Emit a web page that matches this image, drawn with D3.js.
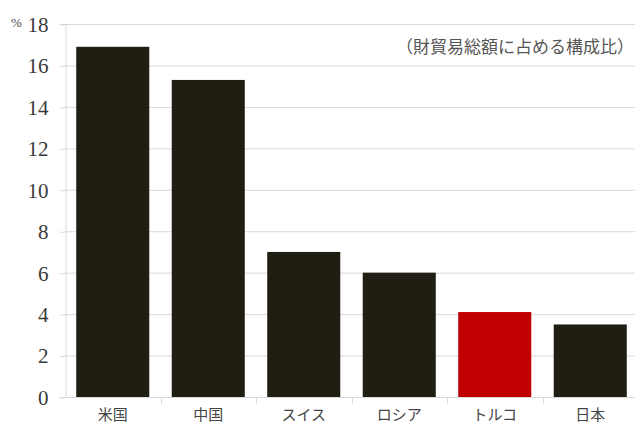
<!DOCTYPE html>
<html><head><meta charset="utf-8">
<script src="https://cdn.jsdelivr.net/npm/d3@7"></script>
<style>body{margin:0;background:#fff}</style>
</head><body>
<script>
const categories = ["米国","中国","スイス","ロシア","トルコ","日本"];
const values = [16.9, 15.3, 7.0, 6.0, 4.1, 3.5];
const highlight = ["トルコ"];
const yTicks = [0,2,4,6,8,10,12,14,16,18];
const unitLabel = "%";
const note = "（財貿易総額に占める構成比）";

const W = 635, H = 424;
const m = {left:65, right:-3, top:24, bottom:27};
const svg = d3.select("body").append("svg").attr("width",W).attr("height",H);
const x = d3.scaleBand().domain(categories).range([m.left, W - m.right]).paddingInner(0.235).paddingOuter(0.1175);
const y = d3.scaleLinear().domain([0,18]).range([H - m.bottom, m.top]);

// gridlines
svg.append("g").selectAll("line").data(yTicks).join("line")
  .attr("x1", m.left).attr("x2", W).attr("y1", d=>y(d)+0.5).attr("y2", d=>y(d)+0.5)
  .attr("stroke","#d9d9d9").attr("stroke-width",1);

// y axis
const ya = svg.append("g").attr("transform",`translate(${m.left+0.5},0)`)
  .call(d3.axisLeft(y).tickValues(yTicks).tickSize(6).tickPadding(11));
ya.select(".domain").attr("stroke","#d9d9d9");
ya.selectAll(".tick line").attr("stroke","#d9d9d9").attr("transform","translate(0,0.5)");
ya.selectAll(".tick text").attr("font-family","'Liberation Serif','DejaVu Serif',serif").attr("font-size",21).attr("fill","#3a3a3a").attr("dy","0.35em");

// bars
svg.append("g").selectAll("rect").data(categories).join("rect")
  .attr("x", d=>x(d)).attr("width", x.bandwidth())
  .attr("y", (d,i)=>y(values[i])).attr("height",(d,i)=>y(0)-y(values[i]))
  .attr("fill", d=> highlight.includes(d) ? "#c00000" : "#201e12");

// x axis
const step = x.step();
const xa = svg.append("g").attr("transform",`translate(0,${y(0)+0.5})`);
xa.append("line").attr("x1",m.left-6).attr("x2",W).attr("stroke","#d9d9d9");
const bounds = categories.slice(1).map(c => x(c) - (step - x.bandwidth())/2);
xa.selectAll("line.t").data(bounds).join("line").attr("class","t")
  .attr("x1",d=>Math.round(d)+0.5).attr("x2",d=>Math.round(d)+0.5).attr("y1",0).attr("y2",6).attr("stroke","#d9d9d9");
xa.selectAll("text").data(categories).join("text")
  .attr("x", d=>x(d)+x.bandwidth()/2).attr("y", 22)
  .attr("text-anchor","middle").attr("font-family","'Noto Sans CJK JP',sans-serif").attr("font-size",15).attr("fill","#444")
  .text(d=>d);

svg.append("text").attr("x",11).attr("y",27).attr("font-family","'Liberation Serif',serif").attr("font-size",13).attr("fill","#444").text(unitLabel);
svg.append("text").attr("x",634).attr("y",53).attr("text-anchor","end").attr("font-family","'Noto Sans CJK JP',sans-serif").attr("font-size",17).attr("fill","#555").text(note);
</script>
</body></html>
